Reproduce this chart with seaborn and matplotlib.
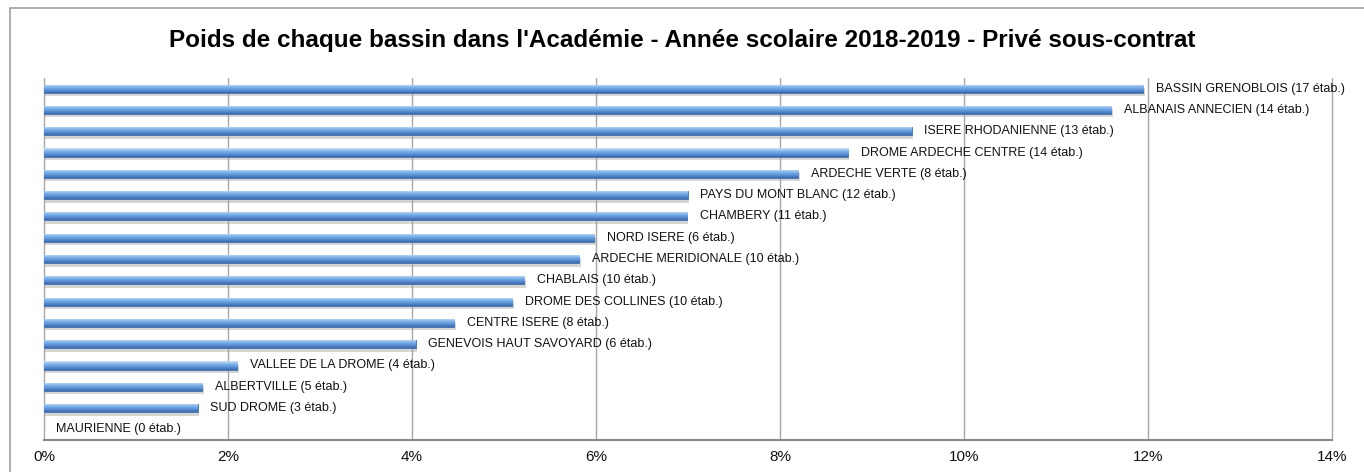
import numpy as np
import pandas as pd
import matplotlib
matplotlib.use('Agg')
import matplotlib.pyplot as plt
import matplotlib.patheffects as pe
from matplotlib.colors import LinearSegmentedColormap
from matplotlib.patches import Rectangle
from matplotlib.ticker import PercentFormatter
import seaborn as sns

bassins = ['BASSIN GRENOBLOIS', 'ALBANAIS ANNECIEN', 'ISERE RHODANIENNE', 'DROME ARDECHE CENTRE',
           'ARDECHE VERTE', 'PAYS DU MONT BLANC', 'CHAMBERY', 'NORD ISERE', 'ARDECHE MERIDIONALE',
           'CHABLAIS', 'DROME DES COLLINES', 'CENTRE ISERE', 'GENEVOIS HAUT SAVOYARD',
           'VALLEE DE LA DROME', 'ALBERTVILLE', 'SUD DROME', 'MAURIENNE']
nb_etab = [17, 14, 13, 14, 8, 12, 11, 6, 10, 10, 10, 8, 6, 4, 5, 3, 0]
poids = [11.95, 11.6, 9.43, 8.74, 8.2, 7.0, 6.99, 5.98, 5.82, 5.22, 5.09, 4.46, 4.04, 2.10, 1.72, 1.67, 0.0]

df = pd.DataFrame({'bassin': bassins, 'poids': poids, 'etab': nb_etab})
df['label'] = df['bassin'] + ' (' + df['etab'].astype(str) + ' étab.)'

sns.set_style('white')
plt.rcParams['font.family'] = ['Liberation Sans', 'DejaVu Sans']

fig = plt.figure(figsize=(13.64, 4.72), dpi=100)
ax = fig.add_axes([44 / 1364, 1 - 440 / 472, (1332 - 44) / 1364, (440 - 78) / 472])

sns.barplot(data=df, x='poids', y='bassin', orient='h', color='#5a92d8', width=0.38,
            edgecolor='#3f6fae', linewidth=0.6, ax=ax, zorder=3)

# degrade bleu + ombre sur chaque barre
cmap = LinearSegmentedColormap.from_list('bar', ['#d2e4f8', '#93bfee', '#6ca2e2', '#5589d0', '#3a68a6'])
grad = np.linspace(0, 1, 64).reshape(-1, 1)
for p in ax.patches:
    w = p.get_width()
    if w <= 0:
        p.set_linewidth(0)
        continue
    p.set_path_effects([pe.SimplePatchShadow(offset=(1, -2.5), shadow_rgbFace='#9a9a9a', alpha=0.4),
                        pe.Normal()])
    y0 = p.get_y()
    h = p.get_height()
    im = ax.imshow(grad, cmap=cmap, aspect='auto', extent=(p.get_x(), p.get_x() + w, y0 + h, y0),
                   origin='upper', zorder=4, interpolation='bicubic')
    im.set_clip_path(p)

for i, row in df.iterrows():
    ax.annotate(row['label'], xy=(row['poids'], i), xytext=(9, 0), textcoords='offset points',
                va='center', ha='left', fontsize=9, color='#111111', zorder=5)

ax.set_xlim(0, 14)
ax.set_ylim(len(df) - 0.5, -0.5)
ax.set_xticks(np.arange(0, 15, 2))
ax.xaxis.set_major_formatter(PercentFormatter(decimals=0))
ax.tick_params(axis='x', labelsize=11, length=5, width=1, color='#909090', pad=2, labelcolor='#111111')
ax.set_yticks([])
ax.set_xlabel('')
ax.set_ylabel('')
ax.grid(axis='x', color='#a8a8a8', linewidth=1, zorder=0)
for gl in ax.get_xgridlines():
    gl.set_clip_on(False)
ax.set_axisbelow(True)
for s in ['top', 'right', 'left']:
    ax.spines[s].set_visible(False)
ax.spines['bottom'].set_color('#888888')
ax.spines['bottom'].set_linewidth(1.5)

fig.text(0.5, 1 - 41 / 472, "Poids de chaque bassin dans l'Académie - Année scolaire 2018-2019 - Privé sous-contrat",
         ha='center', va='center', fontsize=17.5, fontweight='bold', color='black')

fig.patches.append(Rectangle((10 / 1364, -0.1), 1.2, 1.1 - 8 / 472, transform=fig.transFigure,
                             fill=False, edgecolor='#a0a0a0', linewidth=1.2))

plt.savefig('out.png', dpi=100)
